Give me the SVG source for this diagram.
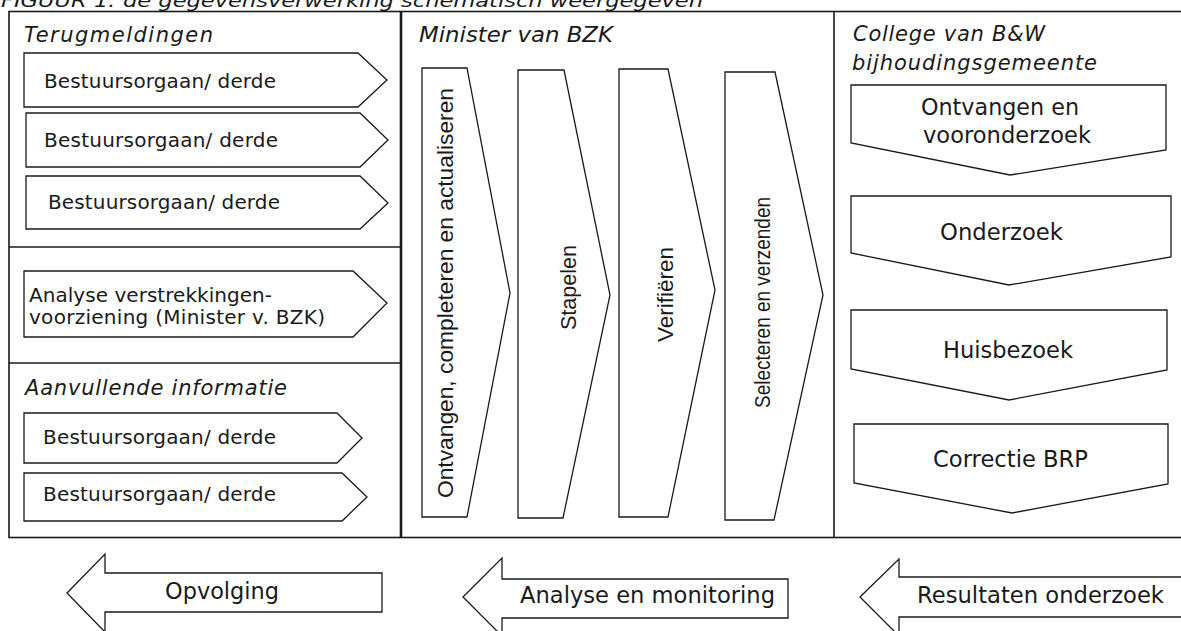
<svg xmlns="http://www.w3.org/2000/svg" width="1181" height="631" viewBox="0 0 1181 631">
<style>
.shape{fill:#fff;stroke:#1a1a1a;stroke-width:1.3;stroke-linejoin:miter}
.frame{fill:none;stroke:#1a1a1a;stroke-width:1.6}
.lbl{font-family:"DejaVu Sans",Verdana,sans-serif;font-size:20px;fill:#1a1a1a}
.big{font-family:"DejaVu Sans",Verdana,sans-serif;font-size:22.5px;fill:#1a1a1a}
.hd{font-family:"DejaVu Sans",Verdana,sans-serif;font-size:21px;font-style:italic;fill:#1a1a1a}
.vt{font-family:"Liberation Sans",Arial,sans-serif;font-size:22px;fill:#1a1a1a}
</style>
<rect width="1181" height="631" fill="#fff"/>
<text class="hd" x="1" y="7" textLength="702" lengthAdjust="spacingAndGlyphs" style="font-size:18px">FIGUUR 1: de gegevensverwerking schematisch weergegeven</text>
<g id="frame">
<rect class="frame" x="9" y="11.5" width="1180" height="526"/>
<line x1="401" y1="11.5" x2="401" y2="537.5" stroke="#1a1a1a" stroke-width="2.6"/>
<line x1="834" y1="11.5" x2="834" y2="537.5" stroke="#1a1a1a" stroke-width="1.6"/>
<line x1="9" y1="247" x2="401" y2="247" stroke="#1a1a1a" stroke-width="1.6"/>
<line x1="9" y1="363" x2="401" y2="363" stroke="#1a1a1a" stroke-width="1.6"/>
</g>
<g id="headings">
<text class="hd" x="24" y="42" textLength="189" lengthAdjust="spacing">Terugmeldingen</text>
<text class="hd" x="25" y="395" textLength="262" lengthAdjust="spacing">Aanvullende informatie</text>
<text class="hd" x="419" y="42" textLength="194" lengthAdjust="spacingAndGlyphs">Minister van BZK</text>
<text class="hd" x="853" y="41" textLength="192" lengthAdjust="spacing">College van B&amp;W</text>
<text class="hd" x="852" y="70" textLength="245" lengthAdjust="spacing">bijhoudingsgemeente</text>
</g>
<g id="terug1">
<polygon class="shape" points="24,53 358,53 387,80 358,107 24,107"/>
<text class="lbl" x="44" y="88" textLength="232">Bestuursorgaan/ derde</text>
</g>
<g id="terug2">
<polygon class="shape" points="26,113 360,113 388,140 360,167 26,167"/>
<text class="lbl" x="44" y="147" textLength="234">Bestuursorgaan/ derde</text>
</g>
<g id="terug3">
<polygon class="shape" points="26,176 360,176 388,203 360,229 26,229"/>
<text class="lbl" x="48" y="209" textLength="232">Bestuursorgaan/ derde</text>
</g>
<g id="analyse-verstrekking">
<polygon class="shape" points="24,271 353,271 387,303 353,337 24,337"/>
<text class="lbl" x="29" y="302" textLength="243">Analyse verstrekkingen-</text>
<text class="lbl" x="29" y="324" textLength="296">voorziening (Minister v. BZK)</text>
</g>
<g id="aanv1">
<polygon class="shape" points="24,413 337,413 362,438 337,463 24,463"/>
<text class="lbl" x="43" y="444" textLength="233">Bestuursorgaan/ derde</text>
</g>
<g id="aanv2">
<polygon class="shape" points="24,473 342,473 367,497 342,521 24,521"/>
<text class="lbl" x="43" y="501" textLength="233">Bestuursorgaan/ derde</text>
</g>
<g id="bzk1">
<polygon class="shape" points="422,68 467,68 510,293 467,517 422,517"/>
<text class="vt" transform="translate(453,498) rotate(-90)" textLength="410" lengthAdjust="spacingAndGlyphs">Ontvangen, completeren en actualiseren</text>
</g>
<g id="bzk2">
<polygon class="shape" points="518,70 564,70 610,295 563,518 518,518"/>
<text class="vt" transform="translate(576,330) rotate(-90)" textLength="85" lengthAdjust="spacingAndGlyphs">Stapelen</text>
</g>
<g id="bzk3">
<polygon class="shape" points="619,69 668,69 715,290 668,517 619,517"/>
<text class="vt" transform="translate(673,342) rotate(-90)" textLength="95" lengthAdjust="spacingAndGlyphs">Verifiëren</text>
</g>
<g id="bzk4">
<polygon class="shape" points="725,72 775,72 823,295 774,520 725,520"/>
<text class="vt" transform="translate(770,408) rotate(-90)" textLength="211" lengthAdjust="spacingAndGlyphs">Selecteren en verzenden</text>
</g>
<g id="gem1">
<polygon class="shape" points="851,85 1166,85 1166,150 1010,175 851,143"/>
<text class="big" x="921" y="115" textLength="158" lengthAdjust="spacingAndGlyphs">Ontvangen en</text>
<text class="big" x="923" y="143" textLength="168" lengthAdjust="spacingAndGlyphs">vooronderzoek</text>
</g>
<g id="gem2">
<polygon class="shape" points="851,196 1171,196 1171,257 1009,285 851,253"/>
<text class="big" x="940" y="240" textLength="123" lengthAdjust="spacingAndGlyphs">Onderzoek</text>
</g>
<g id="gem3">
<polygon class="shape" points="851,310 1167,310 1167,370 1009,400 851,369"/>
<text class="big" x="943" y="358" textLength="130" lengthAdjust="spacingAndGlyphs">Huisbezoek</text>
</g>
<g id="gem4">
<polygon class="shape" points="854,424 1168,424 1168,484 1012,513 854,483"/>
<text class="big" x="933" y="467" textLength="155" lengthAdjust="spacingAndGlyphs">Correctie BRP</text>
</g>
<g id="opvolging">
<polygon class="shape" points="67,593 105,554 105,573 382,573 382,612 105,612 105,632"/>
<text class="big" x="165" y="599" textLength="114" lengthAdjust="spacingAndGlyphs">Opvolging</text>
</g>
<g id="analyse-monitoring">
<polygon class="shape" points="463,597 502,558 502,579 788,579 788,618 502,618 502,636"/>
<text class="big" x="520" y="603" textLength="255" lengthAdjust="spacingAndGlyphs">Analyse en monitoring</text>
</g>
<g id="resultaten">
<polygon class="shape" points="860,597 899,559 899,577 1190,577 1190,617 899,617 899,636"/>
<text class="big" x="917" y="603" textLength="247" lengthAdjust="spacingAndGlyphs">Resultaten onderzoek</text>
</g>
<g id="connectors"/>
</svg>
